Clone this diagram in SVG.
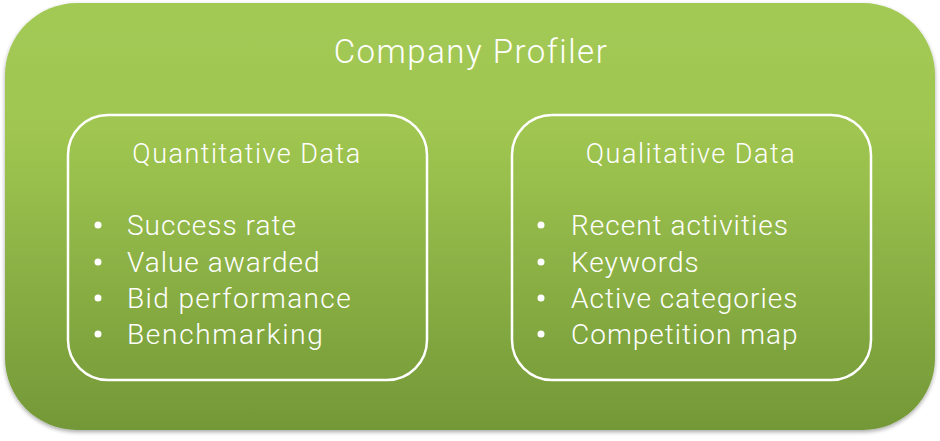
<svg xmlns="http://www.w3.org/2000/svg" width="940" height="441" viewBox="0 0 940 441">
<defs>
<linearGradient id="bg" x1="0" y1="0" x2="0" y2="1">
<stop offset="0" stop-color="#a3c955"/>
<stop offset="0.3" stop-color="#a0c651"/>
<stop offset="1" stop-color="#739837"/>
</linearGradient>
<filter id="sh" x="-5%" y="-5%" width="110%" height="115%">
<feGaussianBlur in="SourceAlpha" stdDeviation="2"/>
<feOffset dx="0" dy="2" result="b"/>
<feComponentTransfer><feFuncA type="linear" slope="0.35"/></feComponentTransfer>
<feMerge><feMergeNode/><feMergeNode in="SourceGraphic"/></feMerge>
</filter>
<style>
.t{font-family:Roboto,"Liberation Sans",sans-serif;fill:#ffffff;font-weight:300;}
.title{font-size:33px;letter-spacing:1.5px;}
.head{font-size:27px;letter-spacing:1.5px;}
.item{font-size:28px;letter-spacing:1px;}
.box{fill:none;stroke:#ffffff;stroke-width:2.5;}
</style>
</defs>
<rect width="940" height="441" fill="#ffffff"/>
<g id="company-profiler">
<rect x="5" y="3" width="930" height="427" rx="72" ry="72" fill="url(#bg)" filter="url(#sh)"/>
<text class="t title" x="471" y="63" text-anchor="middle">Company Profiler</text>
</g>
<g id="quantitative-data">
<rect class="box" x="68" y="115" width="359" height="265" rx="40" ry="40"/>
<text class="t head" x="247" y="163" text-anchor="middle">Quantitative Data</text>
<g class="t item">
<circle cx="98" cy="225" r="3.5" fill="#fff"/>
<text x="127" y="235">Success rate</text>
<circle cx="98" cy="262" r="3.5" fill="#fff"/>
<text x="127" y="272">Value awarded</text>
<circle cx="98" cy="298" r="3.5" fill="#fff"/>
<text x="127" y="308" style="letter-spacing:1.4px">Bid performance</text>
<circle cx="98" cy="334" r="3.5" fill="#fff"/>
<text x="127" y="344" style="letter-spacing:1.7px">Benchmarking</text>
</g>
</g>
<g id="qualitative-data">
<rect class="box" x="512" y="115" width="359" height="265" rx="40" ry="40"/>
<text class="t head" x="691" y="163" text-anchor="middle">Qualitative Data</text>
<g class="t item">
<circle cx="541" cy="225" r="3.5" fill="#fff"/>
<text x="571" y="235">Recent activities</text>
<circle cx="541" cy="262" r="3.5" fill="#fff"/>
<text x="571" y="272">Keywords</text>
<circle cx="541" cy="298" r="3.5" fill="#fff"/>
<text x="571" y="308">Active categories</text>
<circle cx="541" cy="334" r="3.5" fill="#fff"/>
<text x="571" y="344">Competition map</text>
</g>
</g>
<g id="connectors"/>
</svg>
